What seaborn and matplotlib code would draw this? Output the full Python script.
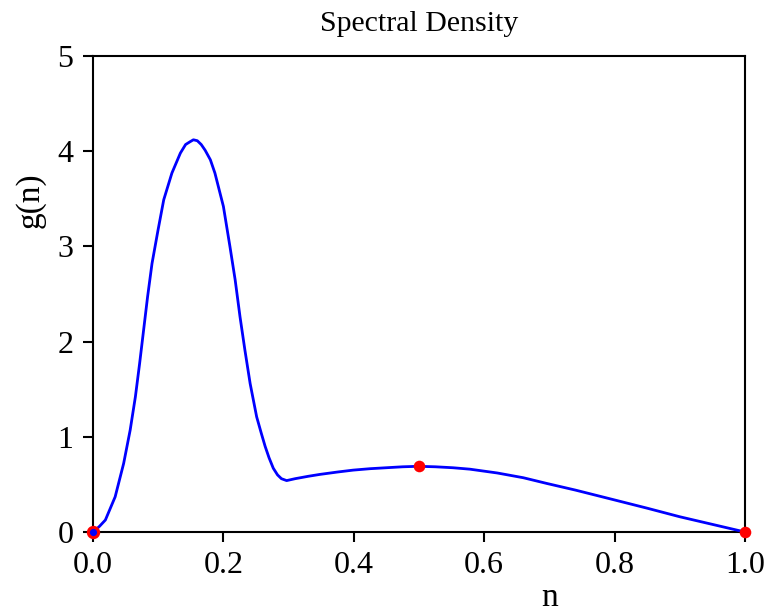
import matplotlib
matplotlib.use("Agg")
import matplotlib.pyplot as plt
import seaborn as sns
import pandas as pd

# curve values
n_vals = [0.0, 0.0036, 0.010, 0.019, 0.034, 0.047, 0.057, 0.065, 0.0715, 0.0776,
          0.0837, 0.0905, 0.0997, 0.1085, 0.121, 0.134, 0.142, 0.149, 0.154, 0.160,
          0.166, 0.172, 0.180, 0.187, 0.200, 0.210, 0.218, 0.2255, 0.233, 0.241,
          0.251, 0.258, 0.264, 0.270, 0.2765, 0.283, 0.289, 0.297, 0.310, 0.330,
          0.348, 0.375, 0.399, 0.425, 0.45, 0.475, 0.499, 0.525, 0.552, 0.578,
          0.62, 0.66, 0.696, 0.74, 0.798, 0.85, 0.900, 0.95, 1.0]
g_vals = [0.0, 0.02, 0.06, 0.126, 0.37, 0.72, 1.07, 1.42, 1.77, 2.12,
          2.47, 2.82, 3.17, 3.49, 3.77, 3.98, 4.07, 4.10, 4.12, 4.11,
          4.07, 4.01, 3.91, 3.77, 3.42, 3.00, 2.65, 2.26, 1.91, 1.56,
          1.21, 1.04, 0.90, 0.78, 0.67, 0.60, 0.56, 0.54, 0.56, 0.585,
          0.605, 0.63, 0.65, 0.665, 0.675, 0.685, 0.69, 0.685, 0.675, 0.66,
          0.62, 0.57, 0.51, 0.44, 0.34, 0.25, 0.16, 0.08, 0.0]

# highlighted points
pt_n = [0.0, 0.5, 1.0]
pt_g = [0.0, 0.69, 0.0]

x_ticks = [0.0, 0.2, 0.4, 0.6, 0.8, 1.0]
y_ticks = [0, 1, 2, 3, 4, 5]

sns.set_style("ticks")
plt.rcParams['font.family'] = ['Liberation Serif', 'DejaVu Serif']
plt.rcParams['text.color'] = 'black'
plt.rcParams['axes.labelcolor'] = 'black'

fig = plt.figure(figsize=(7.64, 6.16), dpi=100)
ax = fig.add_axes([93/764, 1-532/616, (745-93)/764, (532-56)/616])

curve = pd.DataFrame({"n": n_vals, "g": g_vals})
pts = pd.DataFrame({"n": pt_n, "g": pt_g})

sns.scatterplot(data=pts.iloc[1:], x="n", y="g", ax=ax, color="red", s=70,
                edgecolor="red", linewidth=0, zorder=5, clip_on=False)
sns.scatterplot(data=pts.iloc[:1], x="n", y="g", ax=ax, color="blue", s=55,
                edgecolor="red", linewidth=2.2, zorder=5, clip_on=False)
sns.lineplot(data=curve, x="n", y="g", ax=ax, color="blue", linewidth=2.0,
             zorder=4, sort=False)

ax.set_xlim(0, 1)
ax.set_ylim(0, 5)
ax.set_xticks(x_ticks)
ax.set_xticklabels([f"{t:.1f}" for t in x_ticks])
ax.set_yticks(y_ticks)
ax.set_yticklabels([str(t) for t in y_ticks])
ax.tick_params(axis='both', labelsize=23, length=7, width=1.5, direction='out', pad=7,
               colors='black')
for sp in ax.spines.values():
    sp.set_linewidth(1.5)
    sp.set_color('black')

ax.set_xlabel("n", fontsize=24)
ax.set_ylabel("g(n)", fontsize=24)
ax.xaxis.set_label_coords((550-93)/652, (532-606)/476)
ax.xaxis.label.set_va('baseline')
ax.yaxis.set_label_coords((46-93)/652, (532-200)/476)
ax.set_title("Spectral Density", fontsize=21.5, pad=18, color='black')

fig.savefig("out.png", dpi=100)
